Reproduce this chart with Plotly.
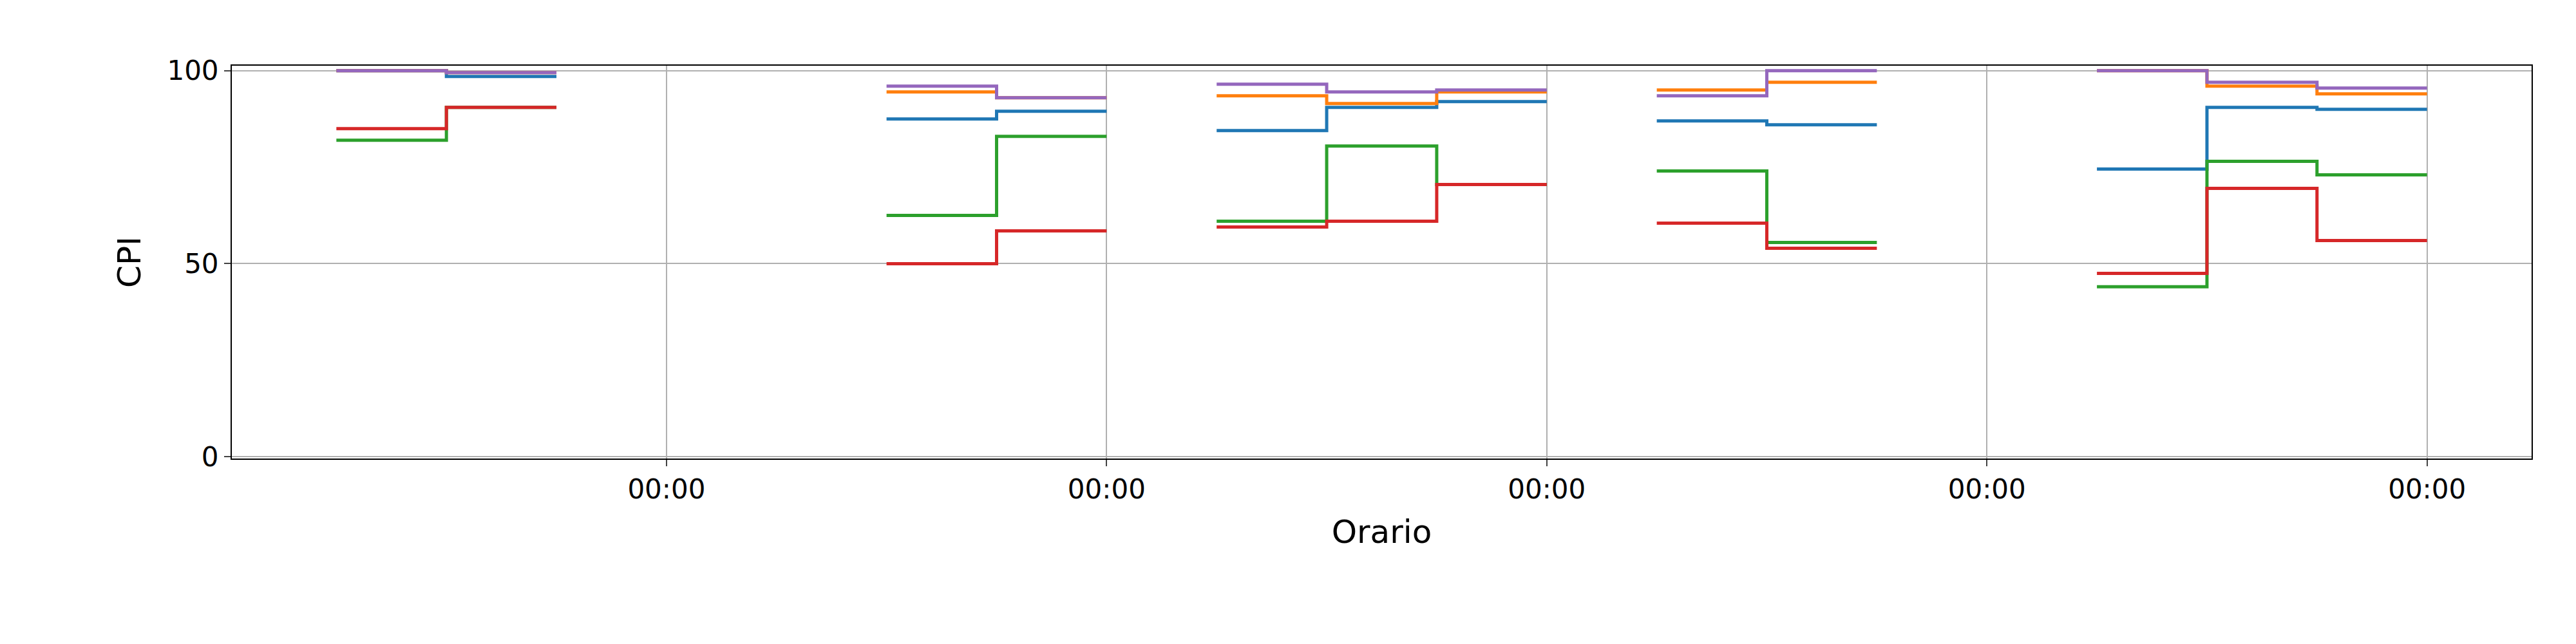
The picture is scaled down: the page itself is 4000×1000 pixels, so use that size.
import plotly.graph_objects as go
import pandas as pd

groups = [
    ("2023-01-01", [6, 12, 18]),
    ("2023-01-02", [12, 18, 24]),
    ("2023-01-03", [6, 12, 18, 24]),
    ("2023-01-04", [6, 12, 18]),
    ("2023-01-05", [6, 12, 18, 24]),
]
series_names = ["A", "B", "C", "D", "E"]
colors = ["#1f77b4", "#ff7f0e", "#2ca02c", "#d62728", "#9467bd"]
blue = [[100, 98.5, 98.5], [87.5, 89.5, 89.5], [84.5, 90.5, 92, 92], [87, 86, 86], [74.5, 90.5, 90, 90]]
orange = [[100, 99.5, 99.5], [94.5, 93, 93], [93.5, 91.5, 94.5, 94.5], [95, 97, 97], [100, 96, 94, 94]]
green = [[82, 90.5, 90.5], [62.5, 83, 83], [61, 80.5, 70.5, 70.5], [74, 55.5, 55.5], [44, 76.5, 73, 73]]
red = [[85, 90.5, 90.5], [50, 58.5, 58.5], [59.5, 61, 70.5, 70.5], [60.5, 54, 54], [47.5, 69.5, 56, 56]]
purple = [[100, 99.5, 99.5], [96, 93, 93], [96.5, 94.5, 95, 95], [93.5, 100, 100], [100, 97, 95.5, 95.5]]
all_series = [blue, orange, green, red, purple]

fig = go.Figure()
for name, col, ser in zip(series_names, colors, all_series):
    xs, ys = [], []
    for (day, hours), vals in zip(groups, ser):
        base = pd.Timestamp(day)
        for h, v in zip(hours, vals):
            xs.append(base + pd.Timedelta(hours=h))
            ys.append(v)
        xs.append(None)
        ys.append(None)
    fig.add_trace(go.Scatter(x=xs, y=ys, mode="lines", line=dict(color=col, width=5, shape="hv"),
                             name=name, showlegend=False, connectgaps=False))

ticks = [pd.Timestamp(f"2023-01-0{d}") for d in range(2, 7)]
fig.update_layout(
    width=4000, height=1000, plot_bgcolor="white", paper_bgcolor="white",
    margin=dict(l=352, r=77, t=94, b=296),
    font=dict(family="DejaVu Sans", size=42, color="black"),
)
fig.update_xaxes(range=[pd.Timestamp("2023-01-01 00:18"), pd.Timestamp("2023-01-06 05:42")],
                 tickvals=ticks, ticktext=["00:00"] * 5, showgrid=True, gridcolor="#b0b0b0", gridwidth=2,
                 showline=True, linecolor="black", linewidth=2, mirror=True, ticks="outside",
                 ticklen=10, tickwidth=2, title=dict(text="Orario", standoff=25), zeroline=False)
fig.update_yaxes(range=[-0.5, 101.3], tickvals=[0, 50, 100], showgrid=True, gridcolor="#b0b0b0", gridwidth=2,
                 showline=True, linecolor="black", linewidth=2, mirror=True, ticks="outside",
                 ticklen=10, tickwidth=2, title=dict(text="CPI", standoff=25), zeroline=False)
fig.write_html("out.html")
